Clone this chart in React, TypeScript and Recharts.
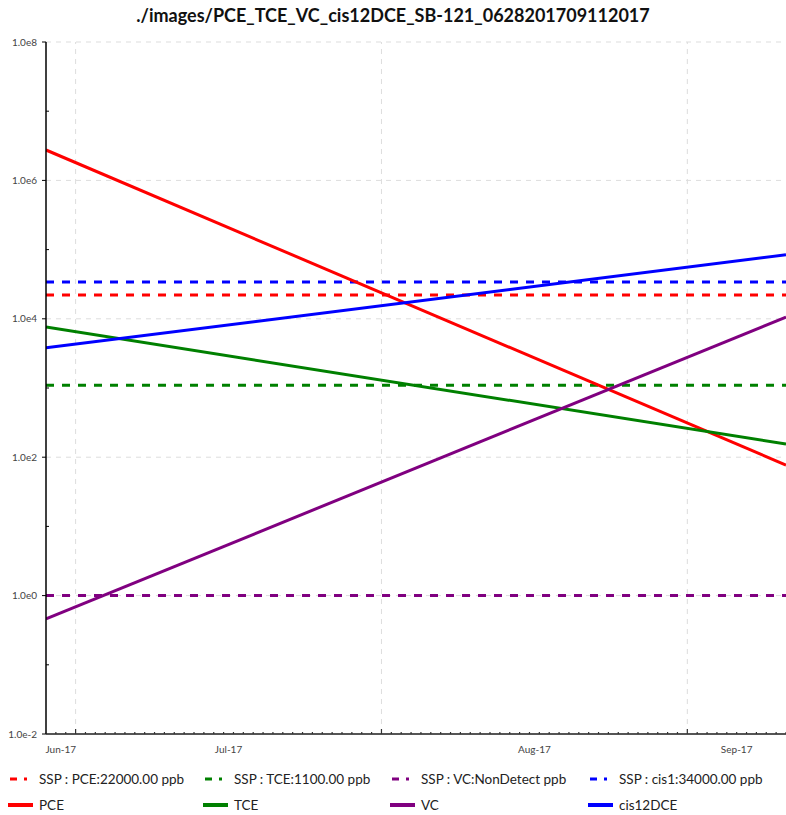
import React from 'react';
import { LineChart, Line, XAxis, YAxis, ReferenceLine } from 'recharts';

// sample dates (first and last sampling event)
const dates = [Date.UTC(2017, 5, 28), Date.UTC(2017, 8, 11)];

// trend values, ppb
const pce = [2750000, 77];
const tce = [7600, 155];
const vc = [0.46, 10600];
const cis12dce = [3800, 84000];

// site screening levels, ppb
const sspPce = 22000;
const sspTce = 1100;
const sspVc = 1;
const sspCis = 34000;

const yTicks = [1e-2, 1e-1, 1e0, 1e1, 1e2, 1e3, 1e4, 1e5, 1e6, 1e7, 1e8];
const yGrid = [1e0, 1e2, 1e4, 1e6, 1e8];

const monthStarts = [Date.UTC(2017, 6, 1), Date.UTC(2017, 7, 1), Date.UTC(2017, 8, 1)];
const monthLabels = ['Jun-17', 'Jul-17', 'Aug-17', 'Sep-17'];

const DAY = 86400000;

const TITLE = './images/PCE_TCE_VC_cis12DCE_SB-121_0628201709112017';
const FONT = 'Lato, "Open Sans", sans-serif';

// label centred in the visible part of each month
const bounds = [dates[0], ...monthStarts, dates[1]];
const labelPos = monthLabels.map((_, i) => (bounds[i] + bounds[i + 1]) / 2);

const dayTicks: number[] = [];
for (let t = dates[0]; t <= dates[1]; t += DAY) dayTicks.push(t);
const xTicks = Array.from(new Set([...dayTicks, ...labelPos])).sort((a, b) => a - b);

const data = dates.map((d, i) => ({
  date: d,
  pce: pce[i],
  tce: tce[i],
  vc: vc[i],
  cis12dce: cis12dce[i],
  sspPce,
  sspTce,
  sspVc,
  sspCis,
}));

const dashed = [
  { key: 'sspPce', name: 'SSP : PCE:22000.00 ppb', color: '#ff0000' },
  { key: 'sspTce', name: 'SSP : TCE:1100.00 ppb', color: '#008000' },
  { key: 'sspVc', name: 'SSP : VC:NonDetect ppb', color: '#800080' },
  { key: 'sspCis', name: 'SSP : cis1:34000.00 ppb', color: '#0000ff' },
];
const solid = [
  { key: 'pce', name: 'PCE', color: '#ff0000' },
  { key: 'tce', name: 'TCE', color: '#008000' },
  { key: 'vc', name: 'VC', color: '#800080' },
  { key: 'cis12dce', name: 'cis12DCE', color: '#0000ff' },
];

const YTick = (props: any) => {
  const { x, y, payload } = props;
  const e = Math.round(Math.log10(payload.value));
  const major = e % 2 === 0;
  if (!major) {
    return <line x1={x} x2={x + 3} y1={y} y2={y} stroke="#000" />;
  }
  return (
    <g>
      <line x1={x - 4} x2={x} y1={y} y2={y} stroke="#000" />
      <text x={x - 9} y={y} dy={3.5} textAnchor="end" fontSize={10} fill="#444" fontFamily={FONT}>
        {`1.0e${e}`}
      </text>
    </g>
  );
};

const XTick = (props: any) => {
  const { x, y, payload } = props;
  const v = payload.value;
  const li = labelPos.indexOf(v);
  const isDay = dayTicks.includes(v);
  const big = monthStarts.includes(v);
  return (
    <g>
      {isDay && <line x1={x} x2={x} y1={y} y2={y - (big ? 5 : 2)} stroke="#333" strokeWidth={1.2} />}
      {li >= 0 && (
        <text x={x} y={y + 19} textAnchor="middle" fontSize={10} fill="#444" fontFamily={FONT}>
          {monthLabels[li]}
        </text>
      )}
    </g>
  );
};

const legendRow = (items: typeof solid, isDashed: boolean, top: number) =>
  items.map((s, i) => {
    const lefts = [8, 203, 390, 588];
    return (
      <div
        key={s.key}
        style={{ position: 'absolute', left: lefts[i], top, display: 'flex', alignItems: 'center', height: 20 }}
      >
        <svg width={26} height={10} style={{ marginRight: 5 }}>
          {isDashed ? (
            <line x1={2} x2={19} y1={5} y2={5} stroke={s.color} strokeWidth={3} strokeDasharray="7 7" />
          ) : (
            <line x1={0} x2={25} y1={5} y2={5} stroke={s.color} strokeWidth={4} />
          )}
        </svg>
        <span style={{ fontSize: 13.5, color: '#222', fontFamily: FONT, whiteSpace: 'nowrap' }}>{s.name}</span>
      </div>
    );
  });

export default function App() {
  return (
    <div style={{ position: 'absolute', left: 0, top: 0, width: 786, height: 815, background: '#fff', fontFamily: FONT }}>
      <div
        style={{
          position: 'absolute',
          top: 4,
          left: 0,
          width: 786,
          textAlign: 'center',
          fontSize: 18,
          fontWeight: 'bold',
          color: '#111',
        }}
      >
        {TITLE}
      </div>
      <LineChart width={786} height={760} data={data} margin={{ top: 42, right: 0, left: 0, bottom: 0 }}>
        <XAxis
          dataKey="date"
          type="number"
          domain={[dates[0], dates[1]]}
          ticks={xTicks}
          interval={0}
          tick={<XTick />}
          tickLine={false}
          tickSize={0}
          tickMargin={0}
          height={26}
          axisLine={{ stroke: '#555', strokeWidth: 2 }}
          allowDataOverflow
        />
        <YAxis
          scale="log"
          domain={[1e-2, 1e8]}
          ticks={yTicks}
          interval={0}
          tick={<YTick />}
          tickLine={false}
          tickSize={0}
          tickMargin={0}
          width={46}
          axisLine={{ stroke: '#000', strokeWidth: 1.5 }}
          allowDataOverflow
        />
        {yGrid.map((v) => (
          <ReferenceLine key={`h${v}`} y={v} stroke="#ddd" strokeDasharray="5 5" />
        ))}
        {monthStarts.map((v) => (
          <ReferenceLine key={`v${v}`} x={v} stroke="#ddd" strokeDasharray="5 5" />
        ))}
        {dashed.map((s) => (
          <Line
            key={s.key}
            dataKey={s.key}
            stroke={s.color}
            strokeWidth={3}
            strokeDasharray="8 8"
            dot={false}
            isAnimationActive={false}
            type="linear"
          />
        ))}
        {solid.map((s) => (
          <Line
            key={s.key}
            dataKey={s.key}
            stroke={s.color}
            strokeWidth={3}
            dot={false}
            isAnimationActive={false}
            type="linear"
          />
        ))}
      </LineChart>
      {legendRow(dashed, true, 769)}
      {legendRow(solid, false, 795)}
    </div>
  );
}
